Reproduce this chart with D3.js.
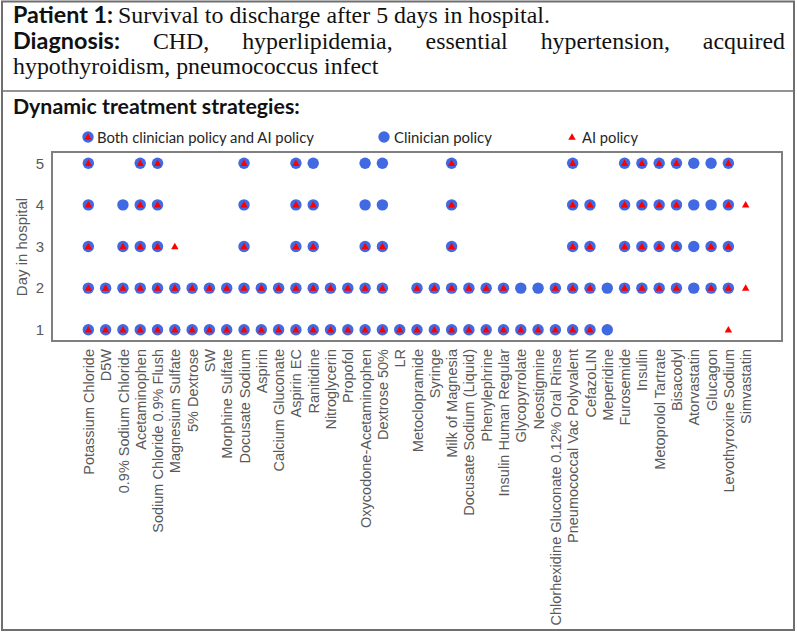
<!DOCTYPE html>
<html>
<head>
<meta charset="utf-8">
<script src="https://cdn.jsdelivr.net/npm/d3@7"></script>
<style>
  html, body { margin: 0; padding: 0; background: #fff; }
  svg { display: block; }
</style>
</head>
<body>
<svg id="chart" width="797" height="633"></svg>
<script>
// ---------- DATA ----------
const drugs = [
  "Potassium Chloride", "D5W", "0.9% Sodium Chloride", "Acetaminophen",
  "Sodium Chloride 0.9%  Flush", "Magnesium Sulfate", "5% Dextrose", "SW",
  "Morphine Sulfate", "Docusate Sodium", "Aspirin", "Calcium Gluconate",
  "Aspirin EC", "Ranitidine", "Nitroglycerin", "Propofol",
  "Oxycodone-Acetaminophen", "Dextrose 50%", "LR", "Metoclopramide",
  "Syringe", "Milk of Magnesia", "Docusate Sodium (Liquid)", "Phenylephrine",
  "Insulin Human Regular", "Glycopyrrolate", "Neostigmine",
  "Chlorhexidine Gluconate 0.12% Oral Rinse", "Pneumococcal Vac Polyvalent",
  "CefazoLIN", "Meperidine", "Furosemide", "Insulin", "Metoprolol Tartrate",
  "Bisacodyl", "Atorvastatin", "Glucagon", "Levothyroxine Sodium", "Simvastatin"
];
const days = [1, 2, 3, 4, 5];
const dayTicks = ["1", "2", "3", "4", "5"];

// 1 = drug given on that day (one entry per drug, same order as drugs)
const clinicianDay1 = [1,1,1,1,1,1,1,1,1,1, 1,1,1,1,1,1,1,1,1,1, 1,1,1,1,1,1,1,1,1,1, 1,0,0,0,0,0,0,0,0];
const aiDay1        = [1,1,1,1,1,1,1,1,1,1, 1,1,1,1,1,1,1,1,1,1, 1,1,1,1,1,1,1,1,1,1, 0,0,0,0,0,0,0,1,0];
const clinicianDay2 = [1,1,1,1,1,1,1,1,1,1, 1,1,1,1,1,1,1,1,0,1, 1,1,1,1,1,1,1,1,1,1, 1,1,1,1,1,1,1,1,0];
const aiDay2        = [1,1,1,1,1,1,1,1,1,1, 1,1,1,1,1,1,1,1,0,1, 1,1,1,1,1,0,0,1,1,1, 0,1,1,1,1,0,1,1,1];
const clinicianDay3 = [1,0,1,1,1,0,0,0,0,1, 0,0,1,1,0,0,1,1,0,0, 0,1,0,0,0,0,0,0,1,1, 0,1,1,1,1,1,1,1,0];
const aiDay3        = [1,0,1,1,1,1,0,0,0,1, 0,0,1,1,0,0,1,1,0,0, 0,1,0,0,0,0,0,0,1,1, 0,1,1,1,1,0,1,1,0];
const clinicianDay4 = [1,0,1,1,1,0,0,0,0,1, 0,0,1,1,0,0,1,1,0,0, 0,1,0,0,0,0,0,0,1,1, 0,1,1,1,1,1,1,1,0];
const aiDay4        = [1,0,0,1,1,0,0,0,0,1, 0,0,1,1,0,0,0,0,0,0, 0,1,0,0,0,0,0,0,1,1, 0,1,1,1,1,0,0,1,1];
const clinicianDay5 = [1,0,0,1,1,0,0,0,0,1, 0,0,1,1,0,0,1,1,0,0, 0,1,0,0,0,0,0,0,1,0, 0,1,1,1,1,1,1,1,0];
const aiDay5        = [1,0,0,1,1,0,0,0,0,1, 0,0,1,0,0,0,0,0,0,0, 0,1,0,0,0,0,0,0,1,0, 0,1,1,1,1,0,0,1,0];

const clinician = [clinicianDay1, clinicianDay2, clinicianDay3, clinicianDay4, clinicianDay5];
const ai = [aiDay1, aiDay2, aiDay3, aiDay4, aiDay5];

const legendLabels = ["Both clinician policy and AI policy", "Clinician policy", "AI policy"];
const diagnosisWords = ["CHD,", "hyperlipidemia,", "essential", "hypertension,", "acquired"];

// ---------- DRAW ----------
const svg = d3.select("#chart");
const BLUE = "#4169e1", RED = "#ff0000";
const serif = "'Liberation Serif', 'DejaVu Serif', serif";
const sans = "Lato, 'Open Sans', sans-serif";
const arial = "'Liberation Sans', Arial, sans-serif";

// outer frame
svg.append("rect").attr("x", 2).attr("y", 1.5).attr("width", 792).attr("height", 628.5)
  .attr("fill", "none").attr("stroke", "#6f6f6f").attr("stroke-width", 2);
svg.append("line").attr("x1", 2).attr("x2", 794).attr("y1", 91).attr("y2", 91)
  .attr("stroke", "#6f6f6f").attr("stroke-width", 1.5);

// text helper: font size chosen so the natural width equals the target width
function fit(x, y, s, family, weight, width, fill, anchor) {
  const t = svg.append("text").attr("x", x).attr("y", y).text(s)
    .attr("font-family", family).attr("font-weight", weight)
    .attr("font-size", 20).attr("fill", fill || "#111")
    .attr("text-anchor", anchor || "start");
  if (width) {
    const w = t.node().getComputedTextLength();
    t.attr("font-size", 20 * width / w);
  }
  return t;
}
function plain(x, y, s, family, weight, size, anchor) {
  return svg.append("text").attr("x", x).attr("y", y).text(s)
    .attr("font-family", family).attr("font-weight", weight)
    .attr("font-size", size).attr("fill", "#111").attr("text-anchor", anchor || "start");
}

fit(13, 23, "Patient 1:", sans, "bold", 100);
const l1 = fit(118, 23, "Survival to discharge after 5 days in hospital.", serif, "normal", 432);
const serifSize = +l1.attr("font-size");
const diagLabel = fit(13, 49, "Diagnosis:", sans, "bold", 107);

// justified line: equal gaps between words from end of "Diagnosis:" to right margin 785
const wordNodes = diagnosisWords.map(w => plain(0, 49, w, serif, "normal", serifSize));
const widths = wordNodes.map(n => n.node().getComputedTextLength());
const startX = 120, endX = 785;
const gap = (endX - startX - d3.sum(widths)) / widths.length;
let cx = startX;
wordNodes.forEach((n, i) => { cx += gap; n.attr("x", cx); cx += widths[i]; });

plain(13, 74, "hypothyroidism, pneumococcus infect", serif, "normal", serifSize);
fit(13, 114, "Dynamic treatment strategies:", sans, "bold", 287);

// scales
const x = d3.scalePoint().domain(drugs).range([52, 782]).padding(2.1);
const y = d3.scaleLinear().domain([0.73, 5.27]).range([341, 152]);

// axes (text only)
const xAxis = svg.append("g").attr("transform", "translate(0,341)")
  .call(d3.axisBottom(x).tickSize(0).tickPadding(0));
xAxis.select(".domain").remove();
xAxis.selectAll("text")
  .attr("font-family", arial).attr("font-size", 14.5).attr("fill", "#595959")
  .attr("transform", "rotate(-90)")
  .attr("text-anchor", "end")
  .attr("x", -8).attr("y", 0).attr("dy", "0.35em");

const yAxis = svg.append("g").attr("transform", "translate(47,0)")
  .call(d3.axisLeft(y).tickValues(days).tickFormat((d, i) => dayTicks[i]).tickSize(0).tickPadding(3));
yAxis.select(".domain").remove();
yAxis.selectAll("text").attr("font-family", arial).attr("font-size", 15).attr("fill", "#595959");

svg.append("text").attr("transform", "translate(27,247) rotate(-90)")
  .attr("text-anchor", "middle").attr("font-family", arial).attr("font-size", 15)
  .attr("fill", "#595959").text("Day in hospital");

// plot frame
svg.append("rect").attr("x", 52).attr("y", 152).attr("width", 730).attr("height", 189)
  .attr("fill", "none").attr("stroke", "#7f7f7f").attr("stroke-width", 2);

// points
const pts = [];
days.forEach((d, di) => drugs.forEach((g, gi) => {
  pts.push({day: d, drug: g, c: clinician[di][gi], a: ai[di][gi]});
}));
const tri = d3.symbol().type(d3.symbolTriangle).size(24);
svg.append("g").selectAll("circle").data(pts.filter(p => p.c)).join("circle")
  .attr("cx", p => x(p.drug)).attr("cy", p => y(p.day)).attr("r", 5.7).attr("fill", BLUE);
svg.append("g").selectAll("path").data(pts.filter(p => p.a)).join("path")
  .attr("d", tri).attr("transform", p => `translate(${x(p.drug)},${y(p.day) + 0.5})`)
  .attr("fill", RED);

// legend
const lg = svg.append("g");
lg.append("circle").attr("cx", 88).attr("cy", 137).attr("r", 5.7).attr("fill", BLUE);
lg.append("path").attr("d", tri).attr("transform", "translate(88,137.5)").attr("fill", RED);
lg.append("circle").attr("cx", 384).attr("cy", 137).attr("r", 5.7).attr("fill", BLUE);
lg.append("path").attr("d", tri).attr("transform", "translate(572,137.5)").attr("fill", RED);
fit(97, 143, legendLabels[0], sans, "normal", 217, "#262626");
fit(394, 143, legendLabels[1], sans, "normal", 98, "#262626");
fit(582, 143, legendLabels[2], sans, "normal", 56, "#262626");
</script>
</body>
</html>
